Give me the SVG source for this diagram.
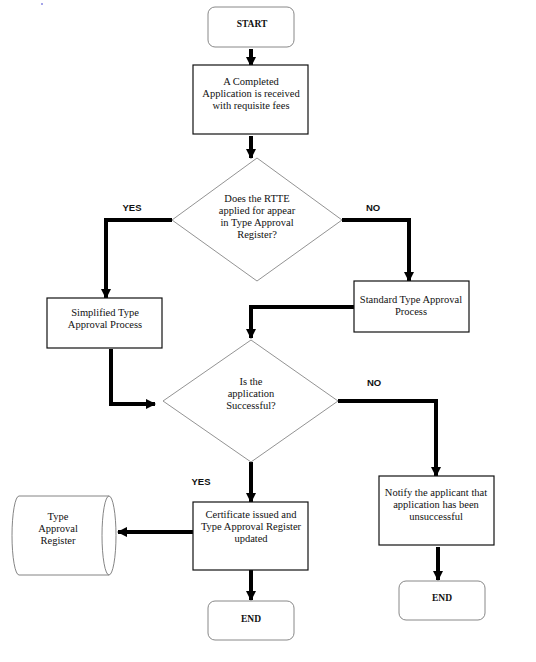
<svg xmlns="http://www.w3.org/2000/svg" width="536" height="662" viewBox="0 0 536 662">
<defs>
<style>
.t{font-family:"Liberation Serif","Times New Roman",serif;font-size:10.5px;fill:#111;text-anchor:middle}
.tb{font-family:"Liberation Serif","Times New Roman",serif;font-size:9.5px;font-weight:bold;fill:#111;text-anchor:middle}
.lb{font-family:"Liberation Sans",Arial,sans-serif;font-size:9.5px;font-weight:bold;fill:#111;text-anchor:middle}
.box{fill:#fff;stroke:#111;stroke-width:1.2}
.term{fill:#fff;stroke:#888;stroke-width:1}
.dia{fill:#fff;stroke:#777;stroke-width:0.8}
.c{fill:none;stroke:#000;stroke-width:4;marker-end:url(#ah)}
</style>
<marker id="ah" viewBox="0 0 10 10" refX="9" refY="5" markerWidth="2.6" markerHeight="2.6" orient="auto" markerUnits="strokeWidth">
<path d="M0,0 L10,5 L0,10 z" fill="#000"/>
</marker>
</defs>
<rect width="536" height="662" fill="#fff"/>
<circle cx="42" cy="4" r="0.8" fill="#33c"/>

<g id="connectors">
<path class="c" d="M251,49 V66"/>
<path class="c" d="M251,136 V158"/>
<path class="c" d="M172,220 H106 V298"/>
<path class="c" d="M342,220 H409 V281"/>
<path class="c" d="M354,307 H251 V338"/>
<path class="c" d="M111,349 V404 H155"/>
<path class="c" d="M338,401 H436 V476"/>
<path class="c" d="M251,462 V502"/>
<path class="c" d="M193,532 H118"/>
<path class="c" d="M251,570 V600"/>
<path class="c" d="M438,547 V580"/>
<text class="lb" x="132" y="211">YES</text>
<text class="lb" x="373" y="211">NO</text>
<text class="lb" x="374" y="386">NO</text>
<text class="lb" x="201" y="485">YES</text>
</g>

<g id="start">
<rect class="term" x="208" y="7" width="86" height="40" rx="7"/>
<text class="tb" x="252" y="27">START</text>
</g>

<g id="received">
<rect class="box" x="193" y="65" width="115" height="69"/>
<text class="t" x="251" y="85">A Completed</text>
<text class="t" x="251" y="97">Application is received</text>
<text class="t" x="251" y="109">with requisite fees</text>
</g>

<g id="decision1">
<polygon class="dia" points="257,158 342,220 257,281 172,220"/>
<text class="t" x="257" y="202">Does the RTTE</text>
<text class="t" x="257" y="214">applied for appear</text>
<text class="t" x="257" y="226">in Type Approval</text>
<text class="t" x="257" y="238">Register?</text>
</g>

<g id="simplified">
<rect class="box" x="47" y="298" width="115" height="50"/>
<text class="t" x="105" y="316">Simplified Type</text>
<text class="t" x="105" y="328">Approval Process</text>
</g>

<g id="standard">
<rect class="box" x="354" y="281" width="115" height="51"/>
<text class="t" x="411" y="303">Standard Type Approval</text>
<text class="t" x="411" y="315">Process</text>
</g>

<g id="decision2">
<polygon class="dia" points="251,340 338,401 251,462 163,401"/>
<text class="t" x="251" y="385">Is the</text>
<text class="t" x="251" y="397">application</text>
<text class="t" x="251" y="409">Successful?</text>
</g>

<g id="certificate">
<rect class="box" x="193" y="502" width="115" height="68"/>
<text class="t" x="251" y="518">Certificate issued and</text>
<text class="t" x="251" y="530">Type Approval Register</text>
<text class="t" x="251" y="542">updated</text>
</g>

<g id="register">
<path class="dia" d="M109,496 H19 A7,39.5 0 0 0 19,575 H109" style="stroke:#666"/>
<ellipse class="dia" cx="109" cy="535.5" rx="7" ry="39.5" style="stroke:#666"/>
<text class="t" x="58" y="520">Type</text>
<text class="t" x="58" y="532">Approval</text>
<text class="t" x="58" y="544">Register</text>
</g>

<g id="notify">
<rect class="box" x="379" y="476" width="115" height="69"/>
<text class="t" x="436" y="496">Notify the applicant that</text>
<text class="t" x="436" y="508">application has been</text>
<text class="t" x="436" y="520">unsuccessful</text>
</g>

<g id="end1">
<rect class="term" x="208" y="601" width="86" height="39" rx="7"/>
<text class="tb" x="251" y="622">END</text>
</g>

<g id="end2">
<rect class="term" x="399" y="581" width="86" height="39" rx="7"/>
<text class="tb" x="442" y="601">END</text>
</g>
</svg>
